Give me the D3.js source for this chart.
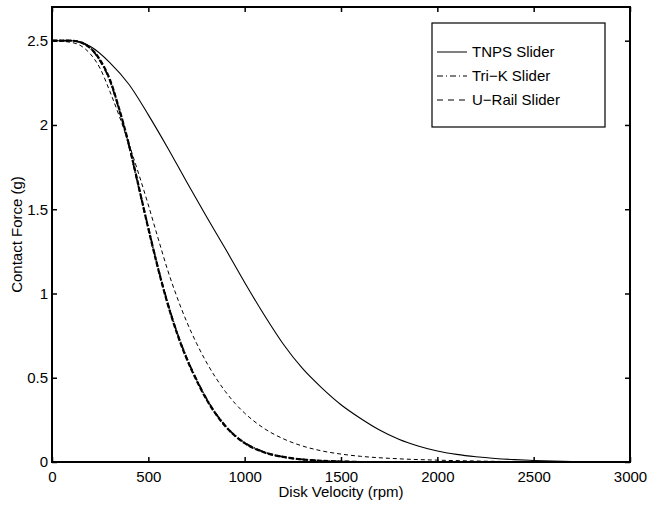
<!DOCTYPE html>
<meta charset="utf-8">
<style>
body {
  margin: 0;
  background: #fff;
  font-family: 'Liberation Sans', Arial, sans-serif;
}
.tick text {
  font-size: 15px;
  fill: #000;
}
.curve {
  fill: none;
  stroke: #000;
}
</style>
<body>
<div id="chart"></div>
<script src="https://d3js.org/d3.v7.min.js"></script>
<script>
// values (rpm -> contact force in g)
var rpmTnps  = [0, 100, 200, 300, 400, 500, 600, 700, 800, 900, 1000, 1100, 1200, 1300, 1400, 1500, 1600, 1700, 1800, 1900, 2000, 2100, 2200, 2300, 2400, 2500, 2600, 2700, 2800, 3000];
var tnps     = [2.50, 2.50, 2.465, 2.37, 2.24, 2.06, 1.865, 1.66, 1.46, 1.265, 1.065, 0.875, 0.70, 0.555, 0.44, 0.34, 0.26, 0.19, 0.135, 0.095, 0.065, 0.045, 0.031, 0.021, 0.014, 0.009, 0.005, 0.002, 0, 0];

var rpmRail  = [0, 100, 150, 200, 250, 300, 350, 400, 450, 500, 550, 600, 650, 700, 750, 800, 850, 900, 950, 1000, 1100, 1200, 1300, 1400, 1500, 1600];
var triK     = [2.50, 2.50, 2.49, 2.455, 2.38, 2.265, 2.085, 1.875, 1.63, 1.39, 1.155, 0.945, 0.765, 0.615, 0.49, 0.38, 0.288, 0.215, 0.157, 0.114, 0.059, 0.031, 0.015, 0.007, 0.003, 0];
var uRail    = [2.50, 2.50, 2.49, 2.455, 2.385, 2.27, 2.09, 1.88, 1.635, 1.385, 1.15, 0.94, 0.76, 0.61, 0.485, 0.375, 0.285, 0.212, 0.155, 0.112, 0.058, 0.03, 0.015, 0.007, 0.003, 0];

// fourth (thin dashed) curve, not in the legend
var rpmThin  = [0, 100, 150, 200, 250, 300, 350, 400, 450, 500, 550, 600, 650, 700, 750, 800, 850, 900, 950, 1000, 1100, 1200, 1300, 1400, 1500, 1600, 1800, 2000, 2200, 2400, 2600];
var thin     = [2.50, 2.49, 2.47, 2.42, 2.335, 2.20, 2.05, 1.885, 1.71, 1.525, 1.33, 1.14, 0.975, 0.83, 0.705, 0.595, 0.50, 0.418, 0.348, 0.29, 0.20, 0.138, 0.095, 0.066, 0.047, 0.034, 0.019, 0.011, 0.006, 0.002, 0];

var xTicks = [0, 500, 1000, 1500, 2000, 2500, 3000];
var yTicks = [0, 0.5, 1, 1.5, 2, 2.5];
var legendLabels = ["TNPS Slider", "Tri\u2212K Slider", "U\u2212Rail Slider"];

var width = 649,
    height = 508,
    margin = {top: 7, right: 19, bottom: 46, left: 52};

var x = d3.scaleLinear().domain([0, 3000]).range([margin.left, width - margin.right]);
var y = d3.scaleLinear().domain([0, 2.7]).range([height - margin.bottom, margin.top]);

var svg = d3.select("#chart").append("svg")
    .attr("width", width)
    .attr("height", height);

// ticks on all four sides, pointing inward
svg.append("g")
    .attr("class", "axis")
    .attr("transform", "translate(0," + y(0) + ")")
    .call(d3.axisBottom(x).tickValues(xTicks).tickSize(-5).tickPadding(9).tickFormat(d3.format("d")));
svg.append("g")
    .attr("class", "axis")
    .attr("transform", "translate(0," + y(2.7) + ")")
    .call(d3.axisTop(x).tickValues(xTicks).tickSize(-5).tickFormat(""));
svg.append("g")
    .attr("class", "axis")
    .attr("transform", "translate(" + x(0) + ",0)")
    .call(d3.axisLeft(y).tickValues(yTicks).tickSize(-5).tickPadding(4).tickFormat(d3.format("")));
svg.append("g")
    .attr("class", "axis")
    .attr("transform", "translate(" + x(3000) + ",0)")
    .call(d3.axisRight(y).tickValues(yTicks).tickSize(-5).tickFormat(""));

svg.selectAll(".axis .domain").remove();
svg.selectAll(".axis .tick line").attr("stroke", "#000").attr("stroke-width", 1.5);

// box
svg.append("rect")
    .attr("x", x(0))
    .attr("y", y(2.7))
    .attr("width", x(3000) - x(0))
    .attr("height", y(0) - y(2.7))
    .attr("fill", "none")
    .attr("stroke", "#000")
    .attr("stroke-width", 2);

var line = d3.line()
    .x(function(d) { return x(d[0]); })
    .y(function(d) { return y(d[1]); })
    .curve(d3.curveMonotoneX);

function pairs(xs, ys) {
  return xs.map(function(v, i) { return [v, ys[i]]; });
}

svg.append("path")
    .attr("class", "curve")
    .attr("d", line(pairs(rpmThin, thin)))
    .attr("stroke-width", 1)
    .attr("stroke-dasharray", "4,3");

svg.append("path")
    .attr("class", "curve")
    .attr("d", line(pairs(rpmRail, triK)))
    .attr("stroke-width", 1.8)
    .attr("stroke-dasharray", "6,2,1,2");

svg.append("path")
    .attr("class", "curve")
    .attr("d", line(pairs(rpmRail, uRail)))
    .attr("stroke-width", 2.2)
    .attr("stroke-dasharray", "5,2");

svg.append("path")
    .attr("class", "curve")
    .attr("d", line(pairs(rpmTnps, tnps)))
    .attr("stroke-width", 1.1);

// legend
var legend = svg.append("g");
legend.append("rect")
    .attr("x", 432)
    .attr("y", 23)
    .attr("width", 173)
    .attr("height", 104)
    .attr("fill", "#fff")
    .attr("stroke", "#000")
    .attr("stroke-width", 1.2);

var dashes = [null, "6,3,1,3", "6,5"];
legendLabels.forEach(function(label, i) {
  var cy = 52 + i * 24;
  legend.append("line")
      .attr("x1", 437).attr("x2", 467)
      .attr("y1", cy).attr("y2", cy)
      .attr("stroke", "#000")
      .attr("stroke-width", 1)
      .attr("stroke-dasharray", dashes[i]);
  legend.append("text")
      .attr("x", 472)
      .attr("y", cy + 5)
      .attr("font-size", "15px")
      .text(label);
});

// axis labels
svg.append("text")
    .attr("x", (x(0) + x(3000)) / 2)
    .attr("y", 497)
    .attr("text-anchor", "middle")
    .attr("font-size", "15px")
    .text("Disk Velocity (rpm)");

svg.append("text")
    .attr("transform", "translate(22," + ((y(0) + y(2.7)) / 2) + ") rotate(-90)")
    .attr("text-anchor", "middle")
    .attr("font-size", "15px")
    .text("Contact Force (g)");
</script>
</body>
